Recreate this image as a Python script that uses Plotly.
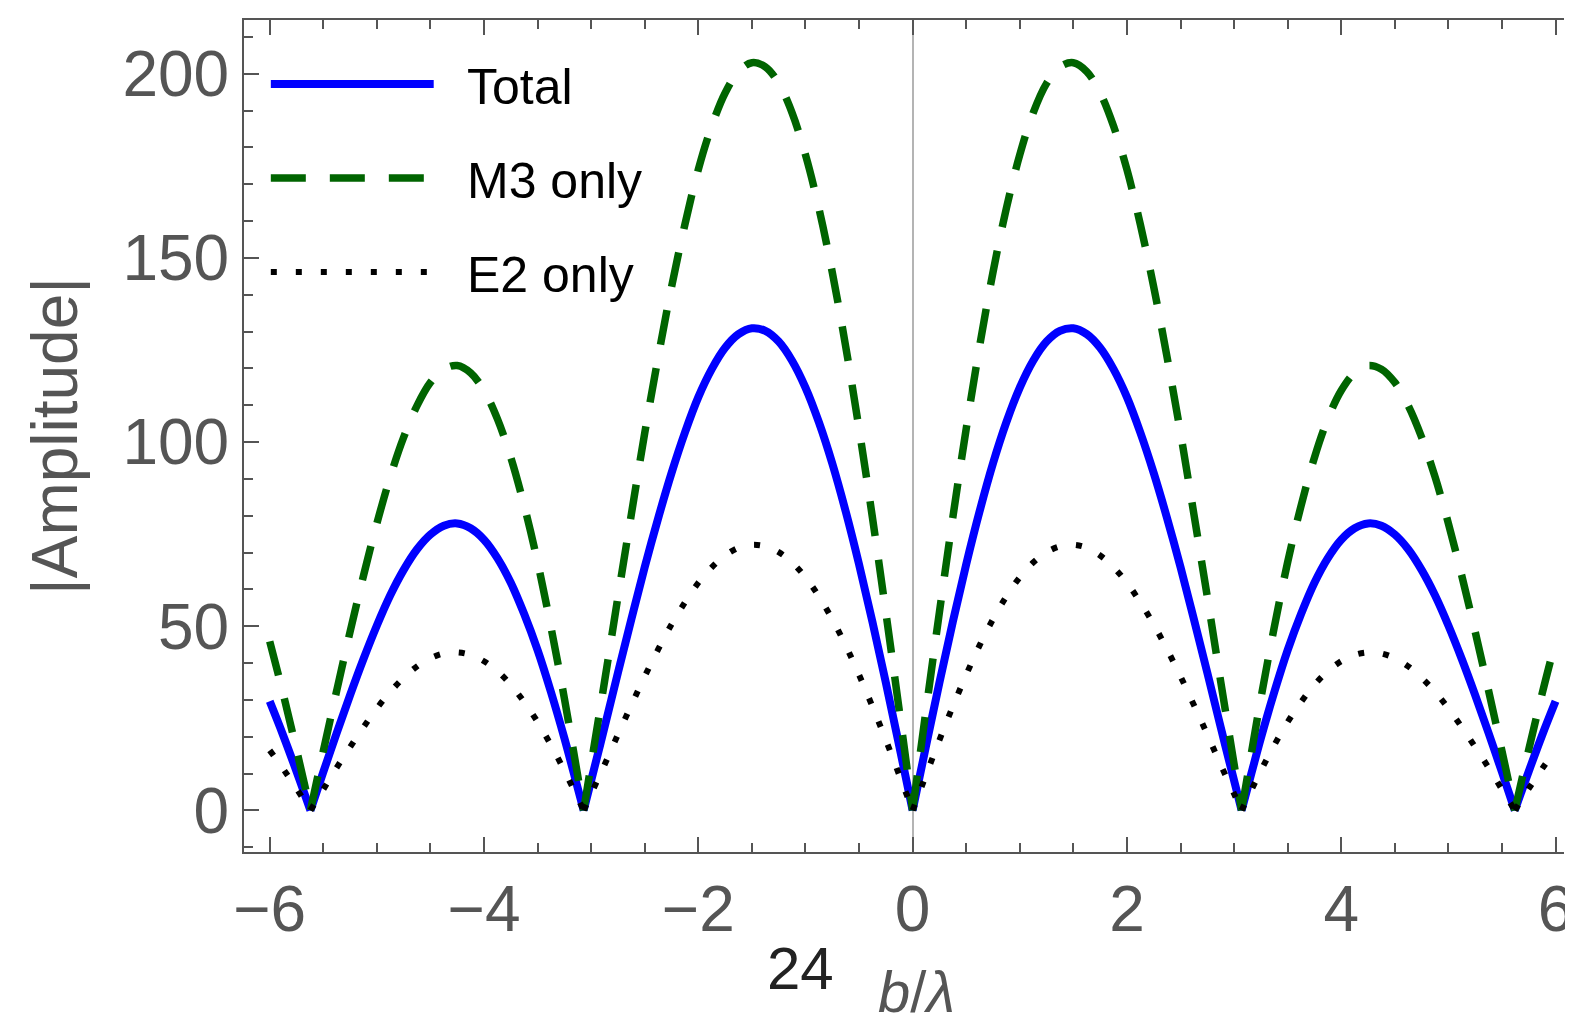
import plotly.graph_objects as go

# Sample positions (b/lambda, positive half; curve is symmetric about 0)
X_HALF = [0, 0.125, 0.25, 0.375, 0.5, 0.625, 0.75, 0.875, 1.0, 1.125, 1.25, 1.375,
          1.5, 1.625, 1.75, 1.875, 2.0, 2.125, 2.25, 2.375, 2.5, 2.625, 2.75, 2.875,
          3.0, 3.07, 3.125, 3.25, 3.375, 3.5, 3.625, 3.75, 3.875, 4.0, 4.125, 4.25,
          4.375, 4.5, 4.625, 4.75, 4.875, 5.0, 5.125, 5.25, 5.375, 5.5, 5.62, 5.75,
          5.875, 6.0]

TOTAL_HALF = [0, 17.5, 34.7, 51.2, 66.8, 81.2, 94.2, 105.4, 114.8, 122.1, 127.3, 130.2,
              130.9, 129.3, 125.6, 119.8, 112.2, 102.6, 91.6, 79.3, 66.1, 51.9, 37.4, 22.6,
              8.1, 0, 6.0, 19.6, 32.1, 43.5, 53.3, 61.8, 68.5, 73.5, 76.6, 77.9,
              77.3, 74.9, 70.9, 65.3, 58.4, 50.2, 41.1, 31.3, 21.0, 10.4, 0, 10.6,
              20.4, 29.6]

M3_HALF = [0, 27.2, 53.8, 79.5, 103.6, 126.0, 146.1, 163.5, 178.0, 189.4, 197.4, 201.9,
           203.0, 200.6, 194.8, 185.8, 174.0, 159.1, 142.1, 123.0, 102.5, 80.4, 58.0, 35.0,
           12.6, 0, 9.3, 30.4, 49.7, 67.4, 82.7, 95.8, 106.3, 114.0, 118.8, 120.8,
           119.8, 116.2, 109.9, 101.3, 90.6, 77.9, 63.7, 48.5, 32.5, 16.1, 0, 16.5,
           31.7, 45.9]

E2_HALF = [0, 9.6, 19.1, 28.2, 36.8, 44.8, 51.9, 58.1, 63.3, 67.3, 70.1, 71.7,
           72.1, 71.3, 69.2, 66.0, 61.8, 56.5, 50.5, 43.7, 36.4, 28.6, 20.6, 12.4,
           4.5, 0, 3.3, 10.8, 17.7, 24.0, 29.4, 34.1, 37.8, 40.5, 42.2, 42.9,
           42.6, 41.3, 39.1, 36.0, 32.2, 27.7, 22.6, 17.2, 11.6, 5.7, 0, 5.9,
           11.3, 16.3]

SERIES_NAMES = ["Total", "M3 only", "E2 only"]
X_TICKS = [-6, -4, -2, 0, 2, 4, 6]
Y_TICKS = [0, 50, 100, 150, 200]


def mirror(xs, ys):
    fx = [-v for v in reversed(xs[1:])] + list(xs)
    fy = list(reversed(ys[1:])) + list(ys)
    return fx, fy


def split_at_zeros(xs, ys):
    """Break the line at its zeros so each arch is smoothed on its own (sharp cusps)."""
    ox, oy = [], []
    n = len(xs)
    for i, (a, b) in enumerate(zip(xs, ys)):
        ox.append(a)
        oy.append(b)
        if b == 0 and 0 < i < n - 1:
            ox += [None, a]
            oy += [None, b]
    return ox, oy


series = [split_at_zeros(*mirror(X_HALF, h)) for h in (TOTAL_HALF, M3_HALF, E2_HALF)]

BLUE = "#0000ff"
GREEN = "#006400"
BLACK = "#000000"
GRAY = "#555555"
FONT = "Liberation Sans"

styles = [
    dict(color=BLUE, width=8, dash="solid"),
    dict(color=GREEN, width=7.5, dash="35px,24px"),
    dict(color=BLACK, width=6, dash="6px,19px"),
]

fig = go.Figure()
for (xs, ys), name, st in zip(series, SERIES_NAMES, styles):
    fig.add_trace(go.Scatter(x=xs, y=ys, mode="lines", name=name,
                             line=dict(shape="spline", smoothing=1.0, **st),
                             connectgaps=False, showlegend=False))

# geometry of plot area (page pixels) used for paper-coordinate placement
PX_L, PX_T, PW, PH = 244, 20, 1329, 832.3


def paper_x(px):
    return (px - PX_L) / PW


def paper_y(py):
    return (PX_T + PH - py) / PH


# Manual legend (line samples + labels)
legend_py = [84, 178, 272]
for st, py, name in zip(styles, legend_py, SERIES_NAMES):
    fig.add_shape(type="line", xref="paper", yref="paper", x0=paper_x(271), x1=paper_x(435),
                  y0=paper_y(py), y1=paper_y(py), line=st)
    fig.add_annotation(xref="paper", yref="paper", x=paper_x(467), y=paper_y(py + 3),
                       text=name, showarrow=False, xanchor="left", yanchor="middle",
                       font=dict(family=FONT, size=50, color="#000000"))

# x-axis label pieces
fig.add_annotation(xref="paper", yref="paper", x=paper_x(804), y=paper_y(969),
                   text="24", showarrow=False, xanchor="center", yanchor="middle",
                   font=dict(family=FONT, size=60, color="#222222"))
fig.add_annotation(xref="paper", yref="paper", x=paper_x(921), y=paper_y(992),
                   text="<i>b</i>/<i>λ</i>", showarrow=False, xanchor="center", yanchor="middle",
                   font=dict(family=FONT, size=58, color=GRAY))

axis_common = dict(
    showline=True, linecolor=GRAY, linewidth=2,
    ticks="inside", ticklen=15, tickwidth=2, tickcolor=GRAY,
    showgrid=False,
    tickfont=dict(family=FONT, size=64, color=GRAY),
)

# page body has an 8px margin: compensate so the plot area lands at (244, 20)
BODY = 8
FIG_W = 1573 - BODY
FIG_H = 1031 - BODY
M_L = PX_L - BODY
M_T = PX_T - BODY
M_B = FIG_H - M_T - PH

fig.update_layout(
    width=FIG_W, height=FIG_H,
    margin=dict(l=M_L, r=0, t=M_T, b=M_B),
    paper_bgcolor="white", plot_bgcolor="white",
    xaxis=dict(range=[-6.24, 6.079], tickvals=X_TICKS, mirror="ticks",
               ticklabeloverflow="allow",
               zeroline=True, zerolinecolor="#b4b4b4", zerolinewidth=1.5,
               minor=dict(dtick=0.5, tick0=0, ticklen=9, tickwidth=2, tickcolor=GRAY,
                          ticks="inside", showgrid=False),
               **axis_common),
    yaxis=dict(range=[-11.3, 214.6], tickvals=Y_TICKS, zeroline=False,
               minor=dict(dtick=10, tick0=0, ticklen=9, tickwidth=2, tickcolor=GRAY,
                          ticks="inside", showgrid=False),
               title=dict(text="|Amplitude|", font=dict(family=FONT, size=64, color=GRAY),
                          standoff=24),
               **axis_common),
)

fig.write_html("out.html")
